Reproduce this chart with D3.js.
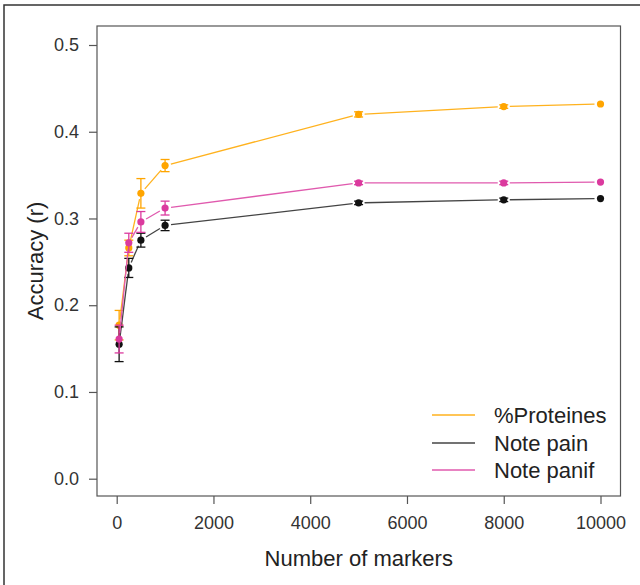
<!DOCTYPE html>
<html>
<head>
<meta charset="utf-8">
<script src="https://cdn.jsdelivr.net/npm/d3@7"></script>
<style>
html,body{margin:0;padding:0;background:#fff;}
svg{display:block;font-family:"Liberation Sans",Arial,sans-serif;}
</style>
</head>
<body>
<svg id="chart" width="640" height="585"></svg>
<script>
// ---- data ----
const markers = [50, 250, 500, 1000, 5000, 8000, 10000];
const seriesNames = ["%Proteines", "Note pain", "Note panif"];
const proteines    = [0.177, 0.266, 0.329, 0.361, 0.420, 0.429, 0.432];
const proteinesErr = [0.017, 0.009, 0.017, 0.007, 0.003, 0.002, 0.0];
const pain         = [0.155, 0.243, 0.275, 0.292, 0.318, 0.3215, 0.323];
const painErr      = [0.020, 0.011, 0.008, 0.006, 0.002, 0.002, 0.0];
const panif        = [0.161, 0.272, 0.296, 0.312, 0.341, 0.341, 0.342];
const panifErr     = [0.016, 0.011, 0.012, 0.008, 0.002, 0.002, 0.0];
const xTicks = [0, 2000, 4000, 6000, 8000, 10000];
const yTicks = [0.0, 0.1, 0.2, 0.3, 0.4, 0.5];

const colors = ["#FFA500", "#111111", "#DB3A9E"];
const lineColors = ["#FFB21E", "#444444", "#E05AAE"];
const series = [
  {name: seriesNames[0], vals: proteines, errs: proteinesErr, color: colors[0], lcolor: lineColors[0]},
  {name: seriesNames[1], vals: pain, errs: painErr, color: colors[1], lcolor: lineColors[1]},
  {name: seriesNames[2], vals: panif, errs: panifErr, color: colors[2], lcolor: lineColors[2]}
];

const svg = d3.select("#chart");
const box = {left: 97, right: 620.5, top: 26, bottom: 496};
const x = d3.scaleLinear().domain([0, 10000]).range([116.7, 600.5]);
const y = d3.scaleLinear().domain([0, 0.5]).range([478.7, 45]);

// outer frame
svg.append("path").attr("d", "M4,585 L4,5 L640,5")
  .attr("fill", "none").attr("stroke", "#333").attr("stroke-width", 1.5);

// plot box
svg.append("rect").attr("x", box.left).attr("y", box.top)
  .attr("width", box.right - box.left).attr("height", box.bottom - box.top)
  .attr("fill", "none").attr("stroke", "#555").attr("stroke-width", 1.2);

// x axis
const xAxis = d3.axisBottom(x).tickValues(xTicks).tickSize(8).tickPadding(12)
  .tickFormat(d3.format("d"));
const gx = svg.append("g").attr("transform", `translate(0,${box.bottom})`).call(xAxis);
gx.select(".domain").remove();
gx.selectAll("line").attr("stroke", "#555").attr("stroke-width", 1.2);
gx.selectAll("text").attr("font-size", 18).attr("fill", "#333")
  .attr("font-family", "Liberation Sans, Arial, sans-serif");

// y axis
const yAxis = d3.axisLeft(y).tickValues(yTicks).tickSize(8).tickPadding(10)
  .tickFormat(d3.format(".1f"));
const gy = svg.append("g").attr("transform", `translate(${box.left},0)`).call(yAxis);
gy.select(".domain").remove();
gy.selectAll("line").attr("stroke", "#555").attr("stroke-width", 1.2);
gy.selectAll("text").attr("font-size", 18).attr("fill", "#333")
  .attr("font-family", "Liberation Sans, Arial, sans-serif");

// axis titles
svg.append("text").attr("x", (box.left + box.right) / 2).attr("y", 566)
  .attr("text-anchor", "middle").attr("font-size", 22).attr("fill", "#222")
  .text("Number of markers");
svg.append("text").attr("transform", `translate(43,${(box.top + box.bottom) / 2}) rotate(-90)`)
  .attr("text-anchor", "middle").attr("font-size", 22).attr("fill", "#222")
  .text("Accuracy (r)");

// series
const gap = 6;
series.forEach(s => {
  const g = svg.append("g");
  const pts = markers.map((m, i) => [x(m), y(s.vals[i])]);
  // type="b" segments with gaps
  for (let i = 0; i < pts.length - 1; i++) {
    const [x1, y1] = pts[i], [x2, y2] = pts[i + 1];
    const dx = x2 - x1, dy = y2 - y1, len = Math.hypot(dx, dy);
    if (len <= 2 * gap) continue;
    const ux = dx / len, uy = dy / len;
    g.append("line")
      .attr("x1", x1 + ux * gap).attr("y1", y1 + uy * gap)
      .attr("x2", x2 - ux * gap).attr("y2", y2 - uy * gap)
      .attr("stroke", s.lcolor).attr("stroke-width", 1.3);
  }
  // error bars
  markers.forEach((m, i) => {
    const e = s.errs[i];
    if (e <= 0) return;
    const cx = x(m), yt = y(s.vals[i] + e), yb = y(s.vals[i] - e);
    g.append("line").attr("x1", cx).attr("x2", cx).attr("y1", yt).attr("y2", yb)
      .attr("stroke", s.color).attr("stroke-width", 1.3);
    [yt, yb].forEach(yy => g.append("line").attr("x1", cx - 4.5).attr("x2", cx + 4.5)
      .attr("y1", yy).attr("y2", yy).attr("stroke", s.color).attr("stroke-width", 1.3));
  });
  // points
  g.selectAll("circle").data(markers).join("circle")
    .attr("cx", d => x(d)).attr("cy", (d, i) => y(s.vals[i])).attr("r", 3.6)
    .attr("fill", s.color);
});

// legend
const legY = [415, 443, 470];
series.forEach((s, i) => {
  svg.append("line").attr("x1", 432).attr("x2", 475).attr("y1", legY[i]).attr("y2", legY[i])
    .attr("stroke", s.lcolor).attr("stroke-width", 1.5);
  svg.append("text").attr("x", 494).attr("y", legY[i] + 8).attr("font-size", 22)
    .attr("fill", "#222").text(s.name);
});
</script>
</body>
</html>
